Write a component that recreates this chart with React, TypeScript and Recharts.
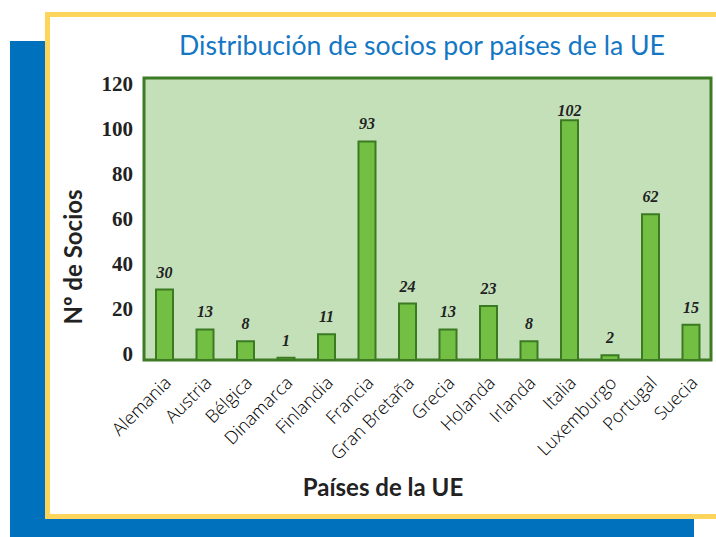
import { BarChart, Bar, XAxis, YAxis, CartesianGrid, ReferenceArea, LabelList } from 'recharts';

const paises = ['Alemania', 'Austria', 'Bélgica', 'Dinamarca', 'Finlandia', 'Francia', 'Gran Bretaña', 'Grecia', 'Holanda', 'Irlanda', 'Italia', 'Luxemburgo', 'Portugal', 'Suecia'];
const socios = [30, 13, 8, 1, 11, 93, 24, 13, 23, 8, 102, 2, 62, 15];
const yTicks = [0, 20, 40, 60, 80, 100, 120];

const data = paises.map((name, i) => ({ name, socios: socios[i] }));

const serif = '"Liberation Serif", "Times New Roman", serif';
const sans = 'Lato, "Open Sans", sans-serif';

const XTick = (props: any) => {
  const { x, y, payload } = props;
  return (
    <g transform={`translate(${x + 8},${y + 24})`}>
      <text textAnchor="end" transform="rotate(-45)" fontFamily='"Open Sans", sans-serif' fontWeight={300} fontSize={18} fill="#000">
        {payload.value}
      </text>
    </g>
  );
};

const YTick = (props: any) => {
  const { x, y, payload } = props;
  return (
    <text x={x} y={y} dy={7} textAnchor="end" fontFamily={serif} fontWeight="bold" fontSize={21} fill="#222">
      {payload.value}
    </text>
  );
};

const ValueLabel = (props: any) => {
  const { x, y, width, value } = props;
  const baseline = Math.max(y - 12, 116);
  return (
    <text x={x + width / 2} y={baseline} textAnchor="middle" fontFamily={serif} fontWeight="bold" fontStyle="italic" fontSize={16} fill="#222">
      {value}
    </text>
  );
};

export default function App() {
  return (
    <div style={{ position: 'absolute', left: 0, top: 0, width: 716, height: 537, overflow: 'hidden', background: '#fff' }}>
      <div style={{ position: 'absolute', left: 10, top: 41, width: 684, height: 496, background: '#0071bc' }} />
      <div style={{ position: 'absolute', left: 45, top: 12, width: 700, height: 497, border: '5px solid #fdd45c', background: '#fff' }} />
      <svg width={716} height={80} style={{ position: 'absolute', left: 0, top: 0 }}>
        <text x={422} y={55} textAnchor="middle" fontFamily={sans} fontSize={26} fill="#1477c4" textLength={486} lengthAdjust="spacingAndGlyphs">
          Distribución de socios por países de la UE
        </text>
      </svg>
      <div style={{ position: 'absolute', left: 0, top: 0 }}>
        <BarChart width={716} height={537} data={data} margin={{ top: 78, right: 5, bottom: 0, left: 0 }}>
          <CartesianGrid horizontal={false} vertical={false} fill="#c3e0b9" stroke="none" yAxisId="v" />
          <XAxis dataKey="name" height={177} tick={<XTick />} tickLine={false} axisLine={false} tickSize={0} tickMargin={0} interval={0} />
          <YAxis yAxisId="v" domain={[0, 120]} hide />
          <YAxis yAxisId="lab" domain={[-2.67, 122.89]} ticks={yTicks} width={144} tick={<YTick />} tickLine={false} axisLine={false} tickSize={0} tickMargin={11} allowDataOverflow />
          <Bar yAxisId="v" dataKey="socios" barSize={17} fill="#72bf44" stroke="#3b7a22" strokeWidth={2} isAnimationActive={false}>
            <LabelList dataKey="socios" content={<ValueLabel />} />
          </Bar>
          <ReferenceArea yAxisId="v" y1={0} y2={120} fill="none" fillOpacity={0} stroke="#3e7b25" strokeWidth={3} />
        </BarChart>
      </div>
      <div style={{ position: 'absolute', left: 0, top: 474, width: 766, textAlign: 'center', fontFamily: sans, fontWeight: 'bold', fontSize: 24, color: '#222', lineHeight: '26px' }}>
        Países de la UE
      </div>
      <svg width={120} height={537} style={{ position: 'absolute', left: 0, top: 0 }}>
        <text transform="translate(82,257) rotate(-90)" textAnchor="middle" fontFamily={sans} fontWeight="bold" fontSize={24} fill="#222">
          Nº de Socios
        </text>
      </svg>
    </div>
  );
}
